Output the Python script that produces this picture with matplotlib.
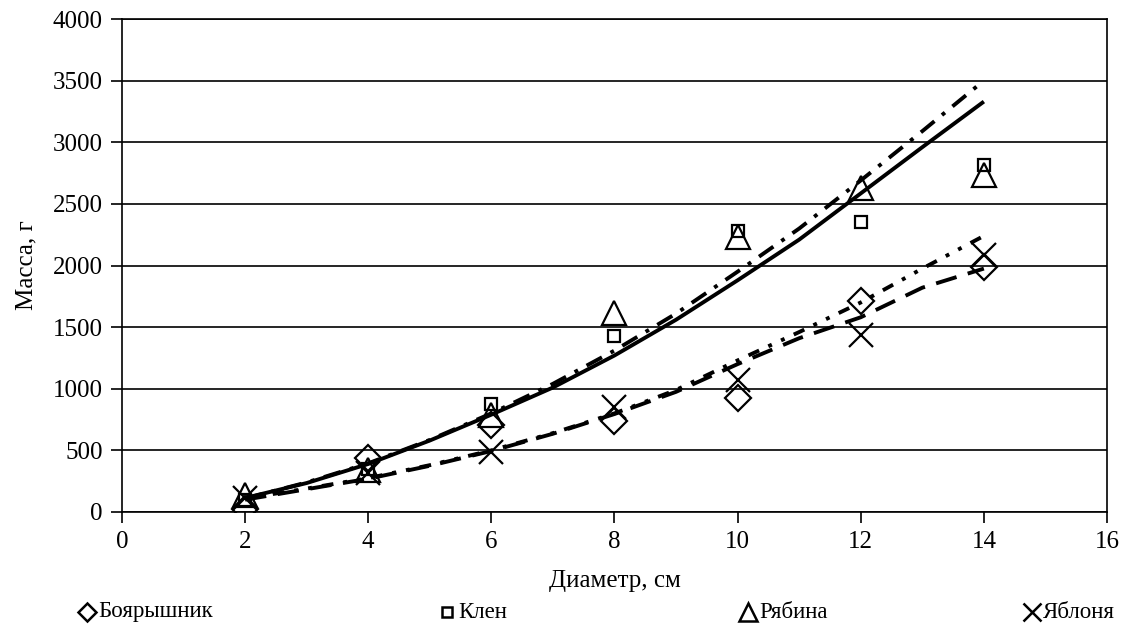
import matplotlib
matplotlib.use('Agg')
import matplotlib.pyplot as plt
from matplotlib.lines import Line2D

plt.rcParams['font.family'] = ['Liberation Serif', 'DejaVu Serif']
plt.rcParams['font.size'] = 18

# measured points, diameter in cm
diam = [2, 4, 6, 8, 10, 12, 14]
boyaryshnik = [25, 435, 706, 735, 925, 1712, 1988]
klen = [100, 350, 876, 1428, 2280, 2353, 2816]
ryabina = [135, 340, 787, 1615, 2231, 2629, 2734]
yablonya = [110, 316, 487, 852, 1071, 1436, 2085]

# trend curves read along the diameter range
trend_x = [2, 3, 4, 5, 6, 7, 8, 9, 10, 11, 12, 13, 14]
trend_klen = [114, 235, 390, 580, 790, 1010, 1270, 1560, 1880, 2210, 2585, 2960, 3330]
trend_ryabina = [110, 240, 395, 585, 800, 1040, 1310, 1610, 1950, 2300, 2690, 3090, 3500]
trend_boyar = [100, 185, 270, 375, 495, 635, 795, 975, 1200, 1410, 1580, 1820, 1975]
trend_yabl = [110, 190, 275, 380, 500, 640, 800, 990, 1230, 1460, 1700, 1975, 2240]

labels = ['Боярышник', 'Клен', 'Рябина', 'Яблоня']

fig = plt.figure(figsize=(11.26, 6.37), dpi=100)
ax = fig.add_axes([122 / 1126, 1 - 512 / 637, (1107 - 122) / 1126, (512 - 19) / 637])

lw = 2.8
ax.plot(trend_x, trend_klen, color='black', lw=lw, solid_capstyle='butt', zorder=3)
ax.plot(trend_x, trend_ryabina, color='black', lw=lw, dashes=(4.5, 2.5, 1, 2.5), zorder=3)
ax.plot(trend_x, trend_boyar, color='black', lw=lw, dashes=(5.5, 3), zorder=3)
ax.plot(trend_x, trend_yabl, color='black', lw=lw, dashes=(1, 2.6, 1, 2.6, 3, 2.6), zorder=3)

mk = dict(linestyle='none', color='black', markerfacecolor='none', markeredgewidth=1.6, zorder=4)
ax.plot(diam, boyaryshnik, marker='D', markersize=13, **mk)
ax.plot(diam, klen, marker='s', markersize=8, **mk)
ax.plot(diam, ryabina, marker='^', markersize=17, **mk)
ax.plot(diam, yablonya, marker='x', markersize=17, **mk)

ax.set_xlim(0, 16)
ax.set_ylim(0, 4000)
ax.set_xticks(range(0, 17, 2))
ax.set_yticks(range(0, 4001, 500))
ax.yaxis.grid(True, color='black', lw=1.2)
ax.set_axisbelow(True)
for s in ax.spines.values():
    s.set_linewidth(1.2)
ax.tick_params(direction='out', length=8, width=1.2, labelsize=18, pad=6)
ax.set_xlabel('Диаметр, см', fontsize=18, labelpad=12)
ax.set_ylabel('Масса, г', fontsize=18, labelpad=11)

# legend row under the axes
leg_x = [87, 447, 748, 1032]
leg_y = 612
leg_mk = [('D', 9), ('s', 7), ('^', 13), ('x', 13)]
for xp, (m, ms), lab in zip(leg_x, leg_mk, labels):
    fig.add_artist(Line2D([xp / 1126], [1 - leg_y / 637], transform=fig.transFigure,
                          marker=m, markersize=ms, color='black', markerfacecolor='none',
                          markeredgewidth=1.8, linestyle='none'))
    fig.text((xp + 11) / 1126, 1 - leg_y / 637, lab, fontsize=16.5, va='center', ha='left')

fig.savefig('out.png', dpi=100)
